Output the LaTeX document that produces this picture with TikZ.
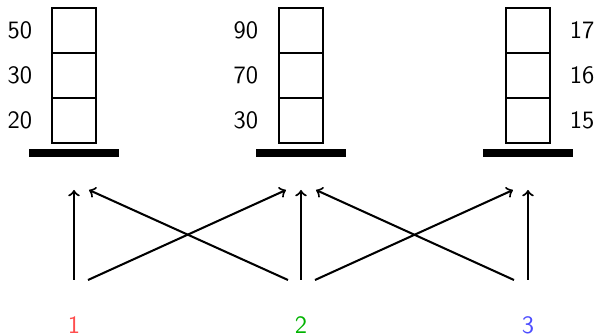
\documentclass[tikz,border=0pt]{standalone}
\usetikzlibrary{arrows.meta}
\tikzset{>=to}
\definecolor{numred}{RGB}{255,77,77}
\definecolor{numgreen}{RGB}{0,179,0}
\definecolor{numblue}{RGB}{77,77,255}
\tikzstyle{block} = [rectangle, draw = black, line width = 0.9pt, minimum width = 19.4pt, minimum height = 19.8pt, inner sep = 0pt]
\tikzstyle{base} = [rectangle, fill = black, minimum width = 39.6pt, minimum height = 3.5pt, inner sep = 0pt]
\tikzstyle{value} = [text centered, font = \fontsize{11}{13}\selectfont\sffamily, inner sep = 0pt]
\tikzstyle{move} = [->, line width = 0.9pt]

\begin{document}
\begin{tikzpicture}[x = 0.44pt, y = -0.44pt, node distance = 19.8pt]
\useasboundingbox (0,0) rectangle (594,335);

% stack 1
\node (boxA1) [block] at (74,120.5) {};
\node (boxA2) [block, above of = boxA1] {};
\node (boxA3) [block, above of = boxA2] {};
\node (baseA) [base] at (74,153) {};
\node (valA1) [value, left of = boxA1, node distance = 23.8pt] {20};
\node (valA2) [value, left of = boxA2, node distance = 23.8pt] {30};
\node (valA3) [value, left of = boxA3, node distance = 23.8pt] {50};

% stack 2
\node (boxB1) [block] at (301,120.5) {};
\node (boxB2) [block, above of = boxB1] {};
\node (boxB3) [block, above of = boxB2] {};
\node (baseB) [base] at (301,153) {};
\node (valB1) [value, left of = boxB1, node distance = 24.2pt] {30};
\node (valB2) [value, left of = boxB2, node distance = 24.2pt] {70};
\node (valB3) [value, left of = boxB3, node distance = 24.2pt] {90};

% stack 3
\node (boxC1) [block] at (528,120.5) {};
\node (boxC2) [block, above of = boxC1] {};
\node (boxC3) [block, above of = boxC2] {};
\node (baseC) [base] at (528,153) {};
\node (valC1) [value, right of = boxC1, node distance = 23.8pt] {15};
\node (valC2) [value, right of = boxC2, node distance = 23.8pt] {16};
\node (valC3) [value, right of = boxC3, node distance = 23.8pt] {17};

% labels
\node (num1) [value, text = numred] at (74,325) {1};
\node (num2) [value, text = numgreen] at (301,325) {2};
\node (num3) [value, text = numblue] at (528,325) {3};

% moves
\coordinate (from1) at (74,280);
\coordinate (to1) at (74,190);
\coordinate (from1r) at (88,280);
\coordinate (to1r) at (89,190);
\coordinate (from2l) at (288,280);
\coordinate (to2l) at (286,190);
\coordinate (from2) at (301,280);
\coordinate (to2) at (301,190);
\coordinate (from2r) at (315,280);
\coordinate (to2r) at (316,190);
\coordinate (from3l) at (514,280);
\coordinate (to3l) at (513,190);
\coordinate (from3) at (528,280);
\coordinate (to3) at (528,190);

\draw [move] (from1) -- (to1);
\draw [move] (from1r) -- (to2l);
\draw [move] (from2l) -- (to1r);
\draw [move] (from2) -- (to2);
\draw [move] (from2r) -- (to3l);
\draw [move] (from3l) -- (to2r);
\draw [move] (from3) -- (to3);
\end{tikzpicture}
\end{document}
